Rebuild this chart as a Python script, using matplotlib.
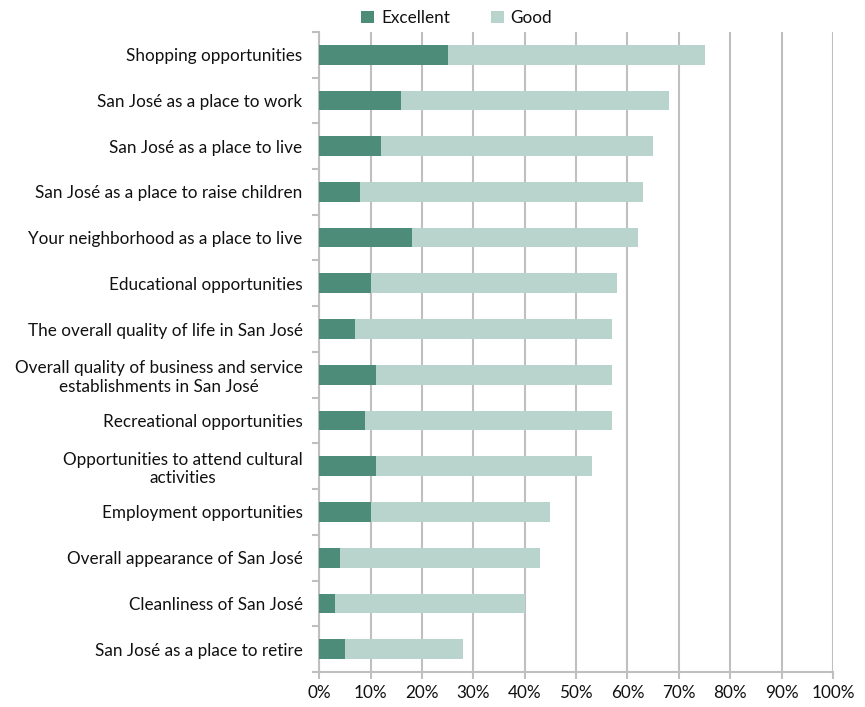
import matplotlib
matplotlib.use("Agg")
import matplotlib.pyplot as plt
import numpy as np
from matplotlib.ticker import FixedLocator, PercentFormatter

categories = [
    "Shopping opportunities",
    "San José as a place to work",
    "San José as a place to live",
    "San José as a place to raise children",
    "Your neighborhood as a place to live",
    "Educational opportunities",
    "The overall quality of life in San José",
    "Overall quality of business and service\nestablishments in San José",
    "Recreational opportunities",
    "Opportunities to attend cultural\nactivities",
    "Employment opportunities",
    "Overall appearance of San José",
    "Cleanliness of San José",
    "San José as a place to retire",
]
excellent = [25, 16, 12, 8, 18, 10, 7, 11, 9, 11, 10, 4, 3, 5]
good = [50, 52, 53, 55, 44, 48, 50, 46, 48, 42, 35, 39, 37, 23]
xticks = [0, 10, 20, 30, 40, 50, 60, 70, 80, 90, 100]

plt.rcParams['font.family'] = ['Lato', 'DejaVu Sans']

fig = plt.figure(figsize=(8.65, 7.07), dpi=100)
ax = fig.add_axes([0.369, 0.0495, 0.594, 0.9055])

dark = "#4E8C7A"
light = "#B9D4CC"
grid = "#BFBFBF"
txt = "#111111"
fs = 12.3

y = np.arange(len(categories))
ax.barh(y, excellent, height=0.43, color=dark, label="Excellent", zorder=3)
ax.barh(y, good, left=excellent, height=0.43, color=light, label="Good", zorder=3)

ax.set_xlim(0, 100)
ax.set_ylim(len(categories) - 0.5, -0.5)
ax.set_xticks(xticks)
ax.xaxis.set_major_formatter(PercentFormatter(decimals=0))
ax.set_yticks(y)
ax.set_yticklabels(categories, multialignment='center')
ax.yaxis.set_minor_locator(FixedLocator(np.arange(-0.5, len(categories), 1)))
ax.tick_params(axis='y', which='major', length=0, pad=12, labelsize=fs, labelcolor=txt)
ax.tick_params(axis='y', which='minor', length=5, color=grid, width=1.5)
ax.tick_params(axis='x', which='major', length=5, color=grid, width=1.5, labelsize=fs,
               labelcolor=txt, pad=4)

ax.grid(axis='x', color=grid, linewidth=1.5, zorder=0)
ax.set_axisbelow(True)
for s in ['top', 'right']:
    ax.spines[s].set_visible(False)
for s in ['left', 'bottom']:
    ax.spines[s].set_color(grid)
    ax.spines[s].set_linewidth(1.5)

leg = fig.legend(loc='upper center', bbox_to_anchor=(0.528, 1.008), ncol=2, frameon=False,
                 fontsize=fs, handlelength=0.75, handleheight=0.75, columnspacing=2.4,
                 handletextpad=0.4)
for t in leg.get_texts():
    t.set_color(txt)

fig.savefig("out.png", dpi=100)
